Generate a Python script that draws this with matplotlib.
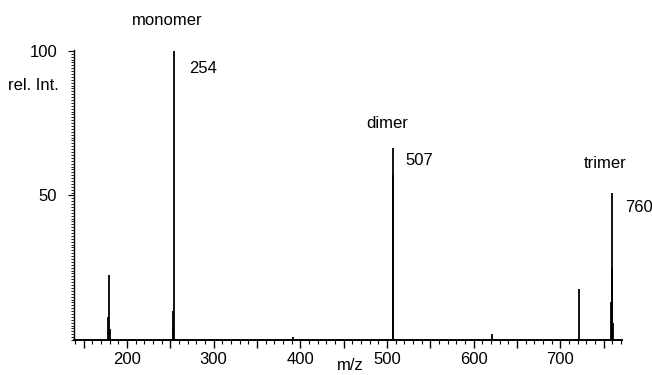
import numpy as np
import matplotlib.pyplot as plt
from matplotlib.ticker import MultipleLocator, FixedLocator, FuncFormatter

plt.rcParams['font.family'] = ['Liberation Sans', 'DejaVu Sans']

# stick spectrum (m/z, rel. intensity)
mz = [178.6, 179.4, 180.3, 252.8, 253.5, 254.0, 391.0, 506.6, 507.0, 621.5,
      721.7, 758.3, 759.2, 760.0, 761.0]
inten = [8.0, 22.5, 3.8, 4.5, 10.0, 100.0, 1.0, 57.0, 66.4, 2.0,
         17.6, 13.0, 25.0, 51.0, 6.0]

labels = ['monomer', 'dimer', 'trimer']
label_pos = [(247, 110.5), (500, 75), (752, 61)]
peak_txt = ['254', '507', '760']
peak_pos = [(272, 94), (521, 62), (775, 45.7)]

fig = plt.figure(figsize=(6.52, 3.75), dpi=100)
ax = fig.add_axes([74/652, 1 - 340/375, (622 - 74)/652, (340 - 50)/375])

ax.vlines(mz, 0, inten, colors='black', lw=1.3)

ax.set_xlim(139, 771)
ax.set_ylim(0, 100.3)
for s in ['top', 'right']:
    ax.spines[s].set_visible(False)
ax.spines['left'].set_linewidth(1.0)
ax.spines['bottom'].set_linewidth(1.4)

ax.xaxis.set_major_locator(MultipleLocator(50))
ax.xaxis.set_major_formatter(FuncFormatter(lambda v, p: f'{v:.0f}' if v % 100 == 0 else ''))
ax.xaxis.set_minor_locator(MultipleLocator(10))
ax.tick_params(axis='x', which='major', length=6, width=1.0, labelsize=12, pad=3)
ax.tick_params(axis='x', which='minor', length=3, width=0.8)

ax.yaxis.set_major_locator(FixedLocator([50, 100]))
ax.yaxis.set_minor_locator(MultipleLocator(1))
ax.tick_params(axis='y', which='major', length=4, width=0.8, labelsize=12, pad=8)
ax.tick_params(axis='y', which='minor', length=2.5, width=0.6)

for t, (x, y) in zip(labels, label_pos):
    ax.text(x, y, t, ha='center', va='center', fontsize=12, clip_on=False)
for t, (x, y) in zip(peak_txt, peak_pos):
    ax.text(x, y, t, ha='left', va='center', fontsize=12, clip_on=False)

fig.text(8/652, 1 - 85/375, 'rel. Int.', ha='left', va='center', fontsize=12)
fig.text(350/652, 1 - 365/375, 'm/z', ha='center', va='center', fontsize=12)

fig.savefig('out.png', dpi=100)
